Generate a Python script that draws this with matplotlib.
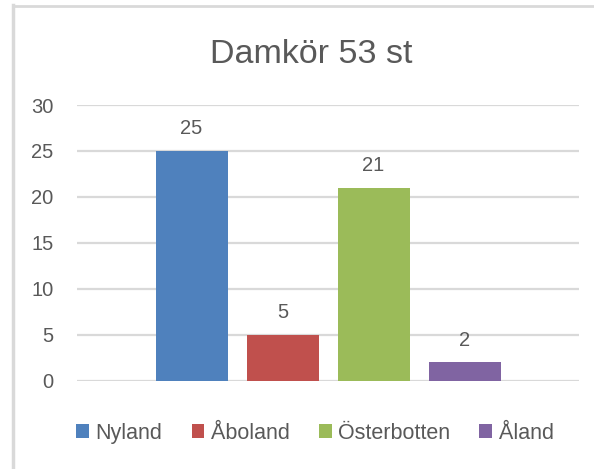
import matplotlib.pyplot as plt
from matplotlib.lines import Line2D
from matplotlib.patches import Patch

regions = ['Nyland', 'Åboland', 'Österbotten', 'Åland']
counts = [25, 5, 21, 2]
colors = ['#4F81BD', '#C0504D', '#9BBB59', '#8064A2']
title = 'Damkör 53 st'
yticks = [0, 5, 10, 15, 20, 25, 30]

plt.rcParams['font.family'] = ['Liberation Sans', 'DejaVu Sans']
txt = '#595959'
grid = '#D9D9D9'

W, H = 594, 469
fig = plt.figure(figsize=(W / 100, H / 100), dpi=100)
ax = fig.add_axes([77 / W, 1 - 380.5 / H, (579 - 77) / W, (380.5 - 105) / H])

x = list(range(len(regions)))
bars = ax.bar(x, counts, width=72 / 91, color=colors, zorder=3)
for xi, v in zip(x, counts):
    ax.annotate(str(v), (xi, v), xytext=(0, 9), textcoords='offset points',
                ha='center', va='bottom', fontsize=14.5, color=txt)

ax.set_xlim(1.5 - 502 / 2 / 91, 1.5 + 502 / 2 / 91)
ax.set_ylim(0, 30)
ax.set_yticks(yticks)
ax.set_xticks([])
ax.yaxis.grid(True, color=grid, linewidth=1.6, zorder=0)
ax.tick_params(axis='y', length=0, pad=17, labelsize=14.5, labelcolor=txt)
for s in ax.spines.values():
    s.set_visible(False)

fig.text(311 / W, 1 - 63 / H, title, ha='center', va='baseline',
         fontsize=24.5, color=txt)

handles = [Patch(facecolor=c, edgecolor='none') for c in colors]
fig.legend(handles, regions, loc='center', bbox_to_anchor=(315 / W, 1 - 433 / H),
           ncol=4, frameon=False, fontsize=15.5, labelcolor=txt,
           handlelength=0.6, handleheight=0.6, handletextpad=0.3,
           columnspacing=1.35)

# chart border (cropped frame)
fig.add_artist(Line2D([12.5 / W, 12.5 / W], [0, 1 - 5 / H], color=grid,
                      linewidth=2.5, transform=fig.transFigure))
fig.add_artist(Line2D([12.5 / W, 1], [1 - 6 / H, 1 - 6 / H], color=grid,
                      linewidth=2, transform=fig.transFigure))

fig.savefig('out.png', dpi=100, facecolor='white')
